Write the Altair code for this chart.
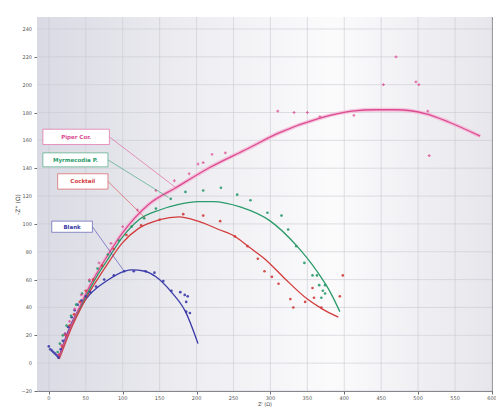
import altair as alt
import pandas as pd

# ---- measured impedance points (Z', -Z'') ----
blank_x = [0, 2, 4, 6, 8, 10, 12, 13, 16, 19, 22, 26, 31, 35, 39, 44, 50, 56, 64, 75, 88,
           102, 115, 131, 143, 155, 166, 178, 184, 188, 186, 186, 191]
blank_y = [12, 10, 9, 8, 7, 6, 5, 4, 10, 16, 21, 26, 33, 38, 42, 45, 48, 51, 55, 60, 63,
           66, 66, 66, 65, 59, 52, 51, 49, 48, 44, 37, 36]

cocktail_x = [14, 18, 23, 28, 34, 42, 50, 60, 72, 88, 105, 125, 150, 182, 209, 232, 252, 269,
              283, 292, 302, 311, 327, 331, 347, 357, 359, 369, 394, 398]
cocktail_y = [6, 12, 20, 27, 35, 44, 52, 60, 70, 82, 92, 99, 103, 107, 106, 102, 91, 84,
              75, 66, 62, 57, 46, 40, 44, 54, 47, 40, 48, 63]

myrm_x = [12, 15, 19, 24, 30, 37, 45, 55, 66, 80, 95, 112, 129, 145, 165, 185, 209, 233, 255,
          273, 296, 315, 324, 335, 346, 357, 363, 366, 374, 371, 374, 369]
myrm_y = [8, 14, 20, 27, 34, 42, 50, 59, 68, 78, 88, 98, 104, 111, 118, 123, 124, 126, 121,
          117, 108, 106, 96, 84, 72, 63, 63, 56, 56, 52, 50, 47]

piper_x = [13, 17, 22, 28, 35, 44, 55, 68, 84, 100, 120, 145, 170, 190, 202, 209, 221, 239,
           310, 332, 350, 367, 413, 453, 470, 497, 501, 513, 515]
piper_y = [6, 13, 21, 30, 39, 49, 60, 72, 86, 98, 110, 124, 131, 136, 143, 144, 150, 151,
           181, 180, 180, 177, 178, 200, 220, 202, 200, 181, 149]

# ---- fitted equivalent-circuit curves ----
blank_fit_x = [13, 20, 32, 45, 55, 78, 102, 113, 130, 145, 166, 185, 202]
blank_fit_y = [3, 14, 30, 42, 49, 59, 66, 67, 66, 62, 51, 37, 14]

cocktail_fit_x = [14, 22, 32, 44, 55, 68, 78, 99, 122, 150, 176, 202, 230, 252, 272, 292,
                  319, 350, 370, 392]
cocktail_fit_y = [3, 14, 27, 40, 51, 62, 70, 86, 97, 103, 105, 102, 96, 91, 83, 75,
                  61, 46, 39, 33]

myrm_fit_x = [14, 22, 32, 44, 55, 68, 78, 99, 122, 150, 176, 202, 222, 260, 300, 336,
              363, 381, 394]
myrm_fit_y = [4, 16, 29, 42, 53, 65, 73, 90, 103, 110, 114, 116, 116, 112, 102, 84,
              66, 51, 37]

piper_fit_x = [14, 22, 32, 44, 55, 78, 99, 135, 172, 216, 269, 310, 367, 410, 444, 470,
               511, 542, 584]
piper_fit_y = [4, 16, 29, 43, 55, 76, 93, 114, 126, 140, 154, 165, 176, 181, 182, 182,
               179, 173, 163]

series = ["Blank", "Cocktail", "Myrmecodia P.", "Piper Cor."]
line_colors = ["#3a3aa8", "#d23c3c", "#2a9a6a", "#dc4a92"]
point_colors = ["#23239a", "#d8506a", "#1c4434", "#d27aa8"]
label_colors = ["#34449e", "#c43434", "#2e9a5e", "#a2307e"]

# annotation boxes: x range, y range and leader-line target
box_x1 = [4, 12, -8, -8]
box_x2 = [59, 80, 80, 82]
box_y1 = [94, 125, 141, 157]
box_y2 = [102, 136, 151, 168]
lead_x = [102, 131, 162, 172]
lead_y = [66, 104, 119, 126]

x_ticks = list(range(0, 601, 50))
y_ticks = list(range(-20, 241, 20))

W, H = 455, 374
xs = alt.Scale(domain=[-16, 600], nice=False, zero=False)
ys = alt.Scale(domain=[-20, 248.6], nice=False, zero=False)

pts = pd.concat([
    pd.DataFrame({"x": blank_x, "y": blank_y, "s": "Blank"}),
    pd.DataFrame({"x": cocktail_x, "y": cocktail_y, "s": "Cocktail"}),
    pd.DataFrame({"x": myrm_x, "y": myrm_y, "s": "Myrmecodia P."}),
    pd.DataFrame({"x": piper_x, "y": piper_y, "s": "Piper Cor."}),
])
fits = pd.concat([
    pd.DataFrame({"x": blank_fit_x, "y": blank_fit_y, "s": "Blank"}),
    pd.DataFrame({"x": cocktail_fit_x, "y": cocktail_fit_y, "s": "Cocktail"}),
    pd.DataFrame({"x": myrm_fit_x, "y": myrm_fit_y, "s": "Myrmecodia P."}),
    pd.DataFrame({"x": piper_fit_x, "y": piper_fit_y, "s": "Piper Cor."}),
])
boxes = pd.DataFrame({
    "s": series, "x1": box_x1, "x2": box_x2, "y1": box_y1, "y2": box_y2,
    "lx": lead_x, "ly": lead_y,
})
boxes["xm"] = (boxes.x1 + boxes.x2) / 2
boxes["ym"] = (boxes.y1 + boxes.y2) / 2

line_scale = alt.Scale(domain=series, range=line_colors)
pt_scale = alt.Scale(domain=series, range=point_colors)
lab_scale = alt.Scale(domain=series, range=label_colors)

# axes carry ticks and titles; tick numbers are drawn as text layers below
X = alt.X("x:Q", scale=xs, title="Z' (Ω)",
          axis=alt.Axis(values=x_ticks, titleFontSize=5, titlePadding=7,
                        labels=False, grid=False))
Y = alt.Y("y:Q", scale=ys, title="-Z'' (Ω)",
          axis=alt.Axis(values=y_ticks, titleFontSize=6, titlePadding=13,
                        labels=False, grid=False))
# mirrored tick marks along the top and right frame
X_top = alt.X("x:Q", scale=xs, title=None,
              axis=alt.Axis(orient="top", values=x_ticks, labels=False, grid=False,
                            domain=False, tickSize=2, offset=-2))
Y_right = alt.Y("y:Q", scale=ys, title=None,
                axis=alt.Axis(orient="right", values=y_ticks, labels=False, grid=False,
                              domain=False, tickSize=2, offset=-2))

bg = alt.Chart(pd.DataFrame({"a": [0]})).mark_rect(
    color=alt.Gradient(
        gradient="linear", x1=0, x2=1, y1=0, y2=0,
        stops=[alt.GradientStop(color="#d9dae3", offset=0),
               alt.GradientStop(color="#eeeef2", offset=0.35),
               alt.GradientStop(color="#fbfbfc", offset=0.65),
               alt.GradientStop(color="#e6e6ec", offset=1)])
).encode(x=alt.value(0), x2=alt.value(W), y=alt.value(0), y2=alt.value(H))

xt = pd.DataFrame({"x": x_ticks})
yt = pd.DataFrame({"y": y_ticks})
vgrid = alt.Chart(xt).mark_rule(color="#c9cad2", strokeWidth=0.6).encode(x=X)
hgrid = alt.Chart(yt).mark_rule(color="#c9cad2", strokeWidth=0.6).encode(y=Y)
xlab = alt.Chart(xt).mark_text(fontSize=5, color="#555", font="DejaVu Sans",
                               baseline="top", dy=1).encode(
    x="x:Q", y=alt.value(H + 4), text="x:Q")
ylab = alt.Chart(yt).mark_text(fontSize=5, color="#555", font="DejaVu Sans",
                               align="right", baseline="middle").encode(
    y="y:Q", x=alt.value(-5), text="y:Q")
mirror = alt.Chart(pts).mark_point(opacity=0).encode(x=X_top, y=Y_right)

halo = alt.Chart(fits[fits.s == "Piper Cor."]).mark_line(
    color="#f4b8d4", strokeWidth=4, interpolate="monotone", opacity=0.8
).encode(x="x:Q", y="y:Q")

curves = alt.Chart(fits).mark_line(strokeWidth=1.3, interpolate="monotone").encode(
    x="x:Q", y="y:Q",
    color=alt.Color("s:N", scale=line_scale, legend=None), detail="s:N")

dots = alt.Chart(pts[pts.s != "Piper Cor."]).mark_circle(size=7, opacity=0.9).encode(
    x="x:Q", y="y:Q", color=alt.Color("s:N", scale=pt_scale, legend=None))

crosses = alt.Chart(pts[pts.s == "Piper Cor."]).mark_point(
    shape="cross", size=8, filled=True, opacity=0.8
).encode(x="x:Q", y="y:Q", color=alt.Color("s:N", scale=pt_scale, legend=None))

leaders = alt.Chart(boxes).mark_rule(strokeWidth=0.7, opacity=0.8).encode(
    x="x2:Q", y="ym:Q", x2="lx:Q", y2="ly:Q",
    color=alt.Color("s:N", scale=line_scale, legend=None))

rects = alt.Chart(boxes).mark_rect(fill="white", strokeWidth=0.8, strokeOpacity=0.7).encode(
    x="x1:Q", x2="x2:Q", y="y1:Q", y2="y2:Q",
    stroke=alt.Stroke("s:N", scale=line_scale, legend=None))

texts = alt.Chart(boxes).mark_text(fontSize=5.5, fontWeight="bold", font="DejaVu Sans").encode(
    x="xm:Q", y="ym:Q", text="s:N",
    color=alt.Color("s:N", scale=lab_scale, legend=None))

main = alt.layer(bg, vgrid, hgrid, halo, curves, dots, crosses, leaders, rects, texts,
                 xlab, ylab)

chart = alt.layer(main, mirror).resolve_axis(x="independent", y="independent").properties(
    width=W, height=H,
    autosize=alt.AutoSizeParams(type="none"),
    padding={"left": 37, "top": 17, "right": 4, "bottom": 16},
    background="white",
).configure_view(stroke="#8a8a90", strokeWidth=1).configure_axis(
    domainColor="#6a6a70", tickColor="#6a6a70",
    tickSize=3, titleColor="#444", titleFont="DejaVu Sans", titleFontWeight="normal",
)

chart.save("out.html", embed_options={"renderer": "svg", "actions": False})
